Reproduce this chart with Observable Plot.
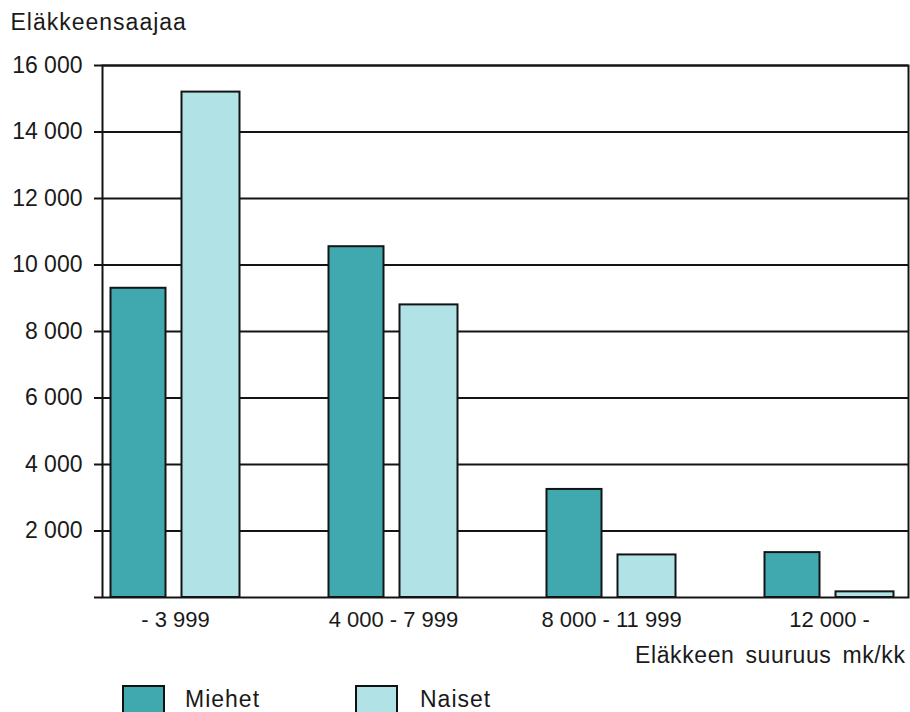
<!DOCTYPE html>
<html>
<head>
<meta charset="utf-8">
<script src="https://cdn.jsdelivr.net/npm/d3@7"></script>
<script src="https://cdn.jsdelivr.net/npm/@observablehq/plot@0.6"></script>
<style>
  body { margin: 0; background: #fff; font-family: "Liberation Sans", Arial, Helvetica, sans-serif; }
  #chart { position: relative; width: 910px; }
  #legend { position: relative; width: 910px; height: 40px; overflow: hidden; color: #1a1a1a; font-size: 23px; letter-spacing: 1px; }
  .sw { position: absolute; top: 13px; width: 43px; height: 30px; border: 2px solid #111; box-sizing: border-box; }
  .lb { position: absolute; top: 14px; line-height: 26px; }
</style>
</head>
<body>
<div id="chart"></div>
<div id="legend"></div>
<script>
const categories = ["- 3 999", "4 000 - 7 999", "8 000 - 11 999", "12 000 -"];
const series = ["Miehet", "Naiset"];
const miehet = [9300, 10550, 3250, 1350];
const naiset = [15200, 8800, 1280, 170];
const yTicks = [0, 2000, 4000, 6000, 8000, 10000, 12000, 14000, 16000];
const yTitle = "Eläkkeensaajaa";
const xTitle = "Eläkkeen suuruus mk/kk";
const colors = ["#40a9af", "#b0e2e6"];

const dataM = categories.map((c, i) => ({category: c, value: miehet[i]}));
const dataN = categories.map((c, i) => ({category: c, value: naiset[i]}));
const fmt = d => d === 0 ? "" : d3.format(",")(d).replace(/,/g, " ");
const ink = "#141414";
const sw = 2;

const plot = Plot.plot({
  width: 910,
  height: 672,
  marginTop: 65,
  marginBottom: 75,
  marginLeft: 102,
  marginRight: 2,
  style: {fontFamily: "Liberation Sans, Arial, Helvetica, sans-serif", fontSize: "23px", color: "#1a1a1a", background: "#fff"},
  x: {type: "band", domain: categories, range: [103.5, 900], paddingInner: 0.36, paddingOuter: 0},
  y: {domain: [0, 16000], range: [597, 65]},
  marks: [
    Plot.ruleY(yTicks.filter(d => d > 0), {stroke: ink, strokeWidth: sw}),
    Plot.barY(dataM, {x: "category", y: "value", fill: colors[0], stroke: ink, strokeWidth: sw, insetLeft: 5.5, insetRight: 79.5}),
    Plot.barY(dataN, {x: "category", y: "value", fill: colors[1], stroke: ink, strokeWidth: sw, insetLeft: 76.5, insetRight: 5.5}),
    Plot.frame({stroke: ink, strokeWidth: sw}),
    Plot.axisY({ticks: yTicks, tickFormat: fmt, tickSize: 8, tickPadding: 12, fontSize: 23, stroke: ink, strokeWidth: sw, label: null}),
    Plot.axisX({tickSize: 0, tickPadding: 14, fontSize: 22, label: null}),
    Plot.text([yTitle], {frameAnchor: "top-left", dx: -92, dy: -43, textAnchor: "start", lineAnchor: "middle", fontSize: 23, fill: "#1a1a1a", text: d => d}),
    Plot.text([xTitle], {frameAnchor: "bottom-right", dx: -3, dy: 58, textAnchor: "end", lineAnchor: "middle", fontSize: 23, fill: "#1a1a1a", text: d => d})
  ]
});
document.getElementById("chart").appendChild(plot);

// letter/word spacing tweaks for the two titles
plot.querySelectorAll("text").forEach(t => {
  if (t.textContent === yTitle) t.style.letterSpacing = "1px";
  if (t.textContent === xTitle) { t.style.wordSpacing = "4px"; t.style.letterSpacing = "0.6px"; }
});

const legend = document.getElementById("legend");
const swX = [122, 355];
const lbX = [185, 420];
series.forEach((s, i) => {
  const box = document.createElement("div");
  box.className = "sw";
  box.style.left = swX[i] + "px";
  box.style.background = colors[i];
  legend.appendChild(box);
  const lb = document.createElement("div");
  lb.className = "lb";
  lb.style.left = lbX[i] + "px";
  lb.textContent = s;
  legend.appendChild(lb);
});
</script>
</body>
</html>
